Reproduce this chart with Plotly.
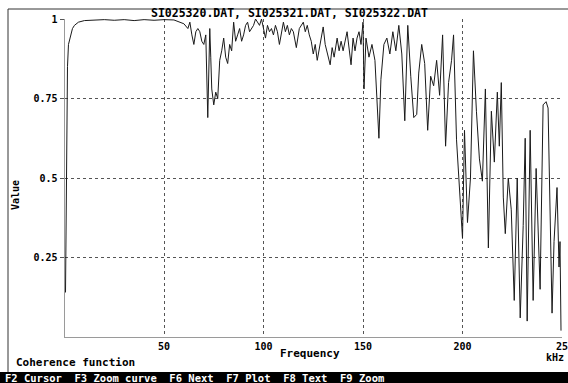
import plotly.graph_objects as go

# Coherence estimate across the three recordings (frequency in kHz)
freq_khz = [
    0.5, 1.0, 1.5, 2, 3, 4, 5, 7, 10, 15, 20, 25, 30, 35, 40, 45, 50, 55, 58, 60,
    62, 63, 64, 65, 66, 67, 68, 69, 70, 71, 72, 73, 73.5, 74, 75, 76, 77, 78, 79, 80,
    81, 82, 83, 84, 85, 86, 87, 88, 89, 90, 91, 92, 93, 94, 95, 96, 97, 98, 99, 100,
    101, 102, 103, 104, 105, 106, 107, 108, 109, 110, 111, 112, 113, 114, 115, 116.5, 118, 120, 121, 122,
    123, 124, 125, 126, 127, 128, 129, 130, 131, 132, 133.5, 134.5, 135.5, 137, 138, 139, 140, 142, 143, 144,
    145, 146, 147, 148, 149, 150, 150.5, 151.5, 153, 154.5, 156, 158, 159, 160.5, 162, 163.5, 165, 166.5, 168, 169.5,
    171, 172.5, 174, 175.5, 177, 178, 179.5, 181, 182.5, 184, 185.5, 187, 188.5, 190, 191.5, 193, 194.5, 195.5, 197, 198.5,
    200, 201, 202.5, 204, 205.5, 207, 208.5, 210, 211.5, 213, 214.5, 216, 217.5, 218.5, 219.5, 220.5, 221.5, 223, 224.5, 226,
    227.5, 229, 230.5, 231.5, 232.5, 234, 235.5, 237, 238, 239, 240.5, 242, 243, 244, 245, 246, 247.5, 248.5, 249, 249.5,
]
coherence = [
    0.14, 0.55, 0.85, 0.92, 0.95, 0.97, 0.98, 0.99, 0.995, 0.997, 0.998, 0.996, 0.998, 0.995, 0.998, 0.996, 0.998, 0.997, 0.99, 0.985,
    0.97, 0.99, 0.95, 0.92, 0.96, 0.97, 0.96, 0.93, 0.92, 0.95, 0.69, 0.97, 0.88, 0.78, 0.73, 0.77, 0.75, 0.87, 0.90, 0.94,
    0.88, 0.86, 0.92, 0.90, 0.99, 0.93, 0.95, 0.97, 0.93, 0.95, 0.98, 0.99, 0.96, 0.97, 0.98, 1.0, 0.99, 0.98, 1.0, 0.97,
    0.94, 0.98, 0.96, 0.97, 0.95, 0.98, 0.96, 0.92, 0.95, 0.99, 0.96, 0.98, 0.95, 0.97, 0.96, 0.91, 0.97, 0.99, 0.96, 0.98,
    0.95, 0.93, 0.89, 0.92, 0.87, 0.91, 0.94, 0.975, 0.92, 0.89, 0.856, 0.91, 0.88, 0.94, 0.90, 0.93, 0.90, 0.96, 0.90, 0.856,
    0.94, 0.90, 0.94, 0.96, 0.92, 0.99, 0.78, 0.94, 0.88, 0.92, 0.87, 0.625, 0.81, 0.92, 0.94, 0.89, 0.96, 0.90, 0.98, 0.89,
    0.68, 0.98, 0.82, 0.69, 0.70, 0.83, 0.92, 0.86, 0.65, 0.82, 0.79, 0.87, 0.76, 0.95, 0.60, 0.80, 0.87, 0.95, 0.62, 0.47,
    0.31, 0.65, 0.36, 0.50, 0.90, 0.71, 0.56, 0.49, 0.78, 0.28, 0.71, 0.55, 0.77, 0.60, 0.80, 0.44, 0.325, 0.50, 0.40, 0.115,
    0.50, 0.06, 0.35, 0.625, 0.05, 0.65, 0.115, 0.53, 0.30, 0.15, 0.73, 0.74, 0.72, 0.40, 0.075, 0.30, 0.47, 0.22, 0.30, 0.02,
]

x_ticks = [50, 100, 150, 200, 250]
x_tick_text = ["50", "100", "150", "200", "25"]
y_ticks = [0.25, 0.5, 0.75, 1.0]
y_tick_text = ["0.25", "0.5", "0.75", "1"]

file_names = ["SI025320.DAT", "SI025321.DAT", "SI025322.DAT"]
menu_items = ["F2 Cursor", "F3 Zoom curve", "F6 Next", "F7 Plot", "F8 Text", "F9 Zoom"]

W, H = 568, 383
MONO = "DejaVu Sans Mono"


def px(x):
    return x / W


def py(y):
    return 1 - y / H


fig = go.Figure()
fig.add_trace(go.Scatter(
    x=freq_khz, y=coherence, mode="lines",
    line=dict(color="#1a1a1a", width=1),
    hoverinfo="skip", showlegend=False,
))

grid = dict(showgrid=True, gridcolor="#555555", gridwidth=1, griddash="dot")
fig.update_xaxes(
    range=[0, 250], domain=[px(64.5), px(562)],
    tickvals=x_ticks, ticktext=x_tick_text,
    showline=True, linecolor="#9a9a9a", linewidth=1,
    ticks="", zeroline=False, ticklabelstandoff=0,
    ticklabeloverflow="allow", automargin=False,
    tickfont=dict(family=MONO, size=10, color="#000000", weight="bold"),
    **grid,
)
fig.update_yaxes(
    range=[0, 1], domain=[py(337), py(19)],
    tickvals=y_ticks, ticktext=y_tick_text,
    showline=True, linecolor="#9a9a9a", linewidth=1,
    ticks="outside", ticklen=4, tickcolor="#555555",
    zeroline=False, ticklabeloverflow="allow", automargin=False,
    tickfont=dict(family=MONO, size=10, color="#000000", weight="bold"),
    **grid,
)

shapes = [
    # window frame
    dict(type="line", xref="paper", yref="paper", x0=px(8), x1=1, y0=py(9), y1=py(9),
         line=dict(color="#333333", width=1)),
    dict(type="line", xref="paper", yref="paper", x0=px(8), x1=px(8), y0=py(9), y1=py(372),
         line=dict(color="#333333", width=1)),
    # function-key bar
    dict(type="rect", xref="paper", yref="paper", x0=0, x1=1, y0=0, y1=py(372),
         fillcolor="#000000", line=dict(width=0), layer="above"),
]

font = dict(family=MONO, size=11, color="#000000", weight="bold")
annotations = [
    dict(text=", ".join(file_names), x=px(289), y=py(13), xref="paper", yref="paper",
         showarrow=False, font=dict(family=MONO, size=11.5, color="#000000", weight="bold"),
         xanchor="center", yanchor="middle"),
    dict(text="Value", x=px(15), y=py(195), xref="paper", yref="paper", textangle=-90,
         showarrow=False, font=dict(family=MONO, size=10, color="#000000", weight="bold"),
         xanchor="center", yanchor="middle"),
    dict(text="Frequency", x=px(310), y=py(353), xref="paper", yref="paper",
         showarrow=False, font=font, xanchor="center", yanchor="middle"),
    dict(text="kHz", x=px(566), y=py(357), xref="paper", yref="paper",
         showarrow=False, font=dict(family=MONO, size=10, color="#000000", weight="bold"),
         xanchor="right", yanchor="middle"),
    dict(text="Coherence function", x=px(14), y=py(362), xref="paper", yref="paper",
         showarrow=False, font=font, xanchor="left", yanchor="middle"),
    dict(text="  ".join(menu_items), x=px(3), y=py(377.5), xref="paper", yref="paper",
         showarrow=False, font=dict(family=MONO, size=10.5, color="#ffffff", weight="bold"),
         xanchor="left", yanchor="middle"),
]

fig.update_layout(
    width=W, height=H,
    margin=dict(l=0, r=0, t=0, b=0),
    paper_bgcolor="#ffffff", plot_bgcolor="#ffffff",
    shapes=shapes, annotations=annotations,
    showlegend=False,
)

fig.write_html("out.html")
